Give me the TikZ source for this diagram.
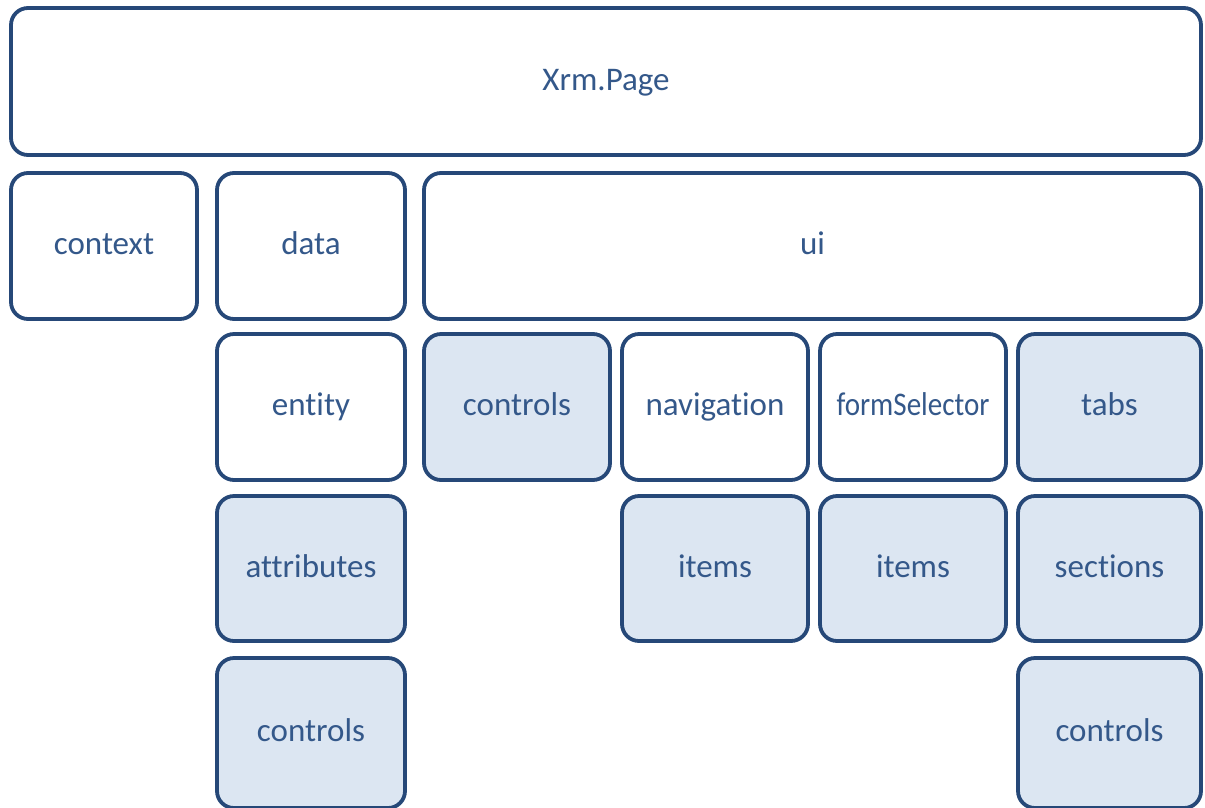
\documentclass[tikz,border=0pt]{standalone}
\usepackage{fontspec}
\setmainfont{Carlito}[Ligatures={NoCommon}]
\definecolor{bordc}{RGB}{38,72,120}
\definecolor{textc}{RGB}{52,88,138}
\definecolor{fillc}{RGB}{220,230,242}
\begin{document}
\begin{tikzpicture}[x=1pt,y=-1pt,
  box/.style={draw=bordc, line width=3.8pt, rounded corners=17pt, fill=white,
    inner sep=0pt, outer sep=0pt, text=textc, text height=24pt, text depth=7pt,
    font=\fontsize{33}{38}\selectfont},
  shaded/.style={box, fill=fillc}]
\useasboundingbox (0,0) rectangle (1205,807);
\clip (0,0) rectangle (1205,807);
% row 1
\node[box, minimum width=1190pt, minimum height=147pt] (xrm) at (606,81.5) {Xrm.Page};
% row 2
\node[box, minimum width=186pt, minimum height=146pt] (context) at (104,246) {context};
\node[box, minimum width=188pt, minimum height=146pt] (data) at (311,246) {data};
\node[box, minimum width=777pt, minimum height=146pt] (ui) at (812.5,246) {ui};
% row 3
\node[box, minimum width=188pt, minimum height=146pt] (entity) at (311,407) {entity};
\node[shaded, minimum width=186pt, minimum height=146pt] (uicontrols) at (517,407) {controls};
\node[box, minimum width=186pt, minimum height=146pt] (navigation) at (715,407) {navigation};
\node[box, minimum width=186pt, minimum height=146pt] (formselector) at (913,407) {\scalebox{0.88}[1]{formSelector}};
\node[shaded, minimum width=183pt, minimum height=146pt] (tabs) at (1109.5,407) {tabs};
% row 4
\node[shaded, minimum width=188pt, minimum height=145pt] (attributes) at (311,568.5) {attributes};
\node[shaded, minimum width=186pt, minimum height=145pt] (navitems) at (715,568.5) {items};
\node[shaded, minimum width=186pt, minimum height=145pt] (formitems) at (913,568.5) {items};
\node[shaded, minimum width=183pt, minimum height=145pt] (sections) at (1109.5,568.5) {sections};
% row 5
\node[shaded, minimum width=188pt, minimum height=150pt] (datacontrols) at (311,733) {controls};
\node[shaded, minimum width=183pt, minimum height=150pt] (seccontrols) at (1109.5,733) {controls};
\end{tikzpicture}
\end{document}
